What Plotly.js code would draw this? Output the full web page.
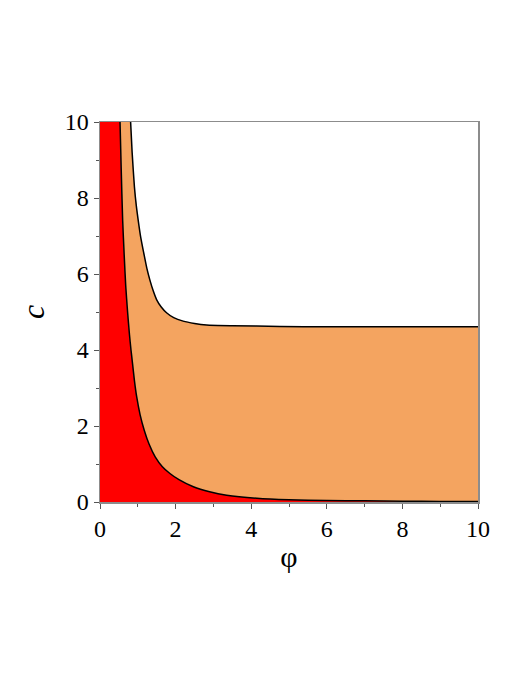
<!DOCTYPE html>
<html>
<head>
<meta charset="utf-8">
<script src="https://cdn.plot.ly/plotly-3.0.1.min.js"></script>
<style>
  html, body { margin: 0; padding: 0; background: #fff; }
  #chart { width: 526px; height: 681px; }
</style>
</head>
<body>
<div id="chart"></div>
<script>
// axis limits
const phiRange = [0, 10]
const cRange = [0, 10]

// lower boundary curve
const lowerPhi = [0.53, 0.56, 0.60, 0.64, 0.68, 0.73, 0.78, 0.82, 0.86, 0.91, 0.97, 1.06, 1.17, 1.30, 1.46, 1.65, 1.85, 2.10, 2.47, 2.90, 3.35, 4.15, 5.0, 6.0, 7.0, 8.0, 9.0, 10.0]
const lowerC   = [10.0, 8.8, 7.4, 6.5, 5.7, 5.0, 4.4, 4.0, 3.65, 3.2, 2.77, 2.3, 1.89, 1.52, 1.19, 0.93, 0.75, 0.58, 0.40, 0.27, 0.18, 0.10, 0.06, 0.04, 0.03, 0.02, 0.015, 0.01]

// upper boundary curve
const upperPhi = [0.81, 0.85, 0.91, 0.96, 1.01, 1.08, 1.16, 1.24, 1.32, 1.41, 1.50, 1.62, 1.76, 1.95, 2.20, 2.50, 2.82, 3.50, 4.76, 6.0, 8.0, 10.0]
const upperC   = [10.0, 9.2, 8.30, 7.8, 7.42, 6.95, 6.54, 6.15, 5.84, 5.55, 5.32, 5.13, 4.98, 4.85, 4.76, 4.70, 4.66, 4.64, 4.62, 4.61, 4.61, 4.61]

const xTicks = [0, 2, 4, 6, 8, 10]
const yTicks = [0, 2, 4, 6, 8, 10]

// red region: left of the lower curve
let redRegion = {
    x: [phiRange[0], phiRange[0]].concat(lowerPhi, [phiRange[1]]),
    y: [cRange[0], cRange[1]].concat(lowerC, [cRange[0]]),
    mode: 'lines',
    fill: 'toself',
    fillcolor: '#ff0000',
    line: {width: 0},
    hoverinfo: 'skip',
    showlegend: false,
}

// orange region: between the two curves
let orangeRegion = {
    x: lowerPhi.concat(upperPhi.slice().reverse()),
    y: lowerC.concat(upperC.slice().reverse()),
    mode: 'lines',
    fill: 'toself',
    fillcolor: '#f4a460',
    line: {width: 0},
    hoverinfo: 'skip',
    showlegend: false,
}

let lowerLine = {
    x: lowerPhi, y: lowerC,
    mode: 'lines',
    line: {color: '#000', width: 1.5, shape: 'spline', smoothing: 0.6},
    showlegend: false,
}

let upperLine = {
    x: upperPhi, y: upperC,
    mode: 'lines',
    line: {color: '#000', width: 1.5, shape: 'spline', smoothing: 0.6},
    showlegend: false,
}

const serif = 'Liberation Serif'

let axisCommon = {
    showgrid: false,
    zeroline: false,
    showline: true,
    mirror: true,
    linecolor: '#8c8c8c',
    linewidth: 1.5,
    ticks: 'outside',
    ticklen: 5,
    tickwidth: 1,
    tickcolor: '#555',
    tickfont: {family: serif, size: 24, color: '#000'},
    minor: {dtick: 1, ticks: 'outside', ticklen: 3, tickcolor: '#555', tickwidth: 1},
}

let layout = {
    width: 526,
    height: 681,
    margin: {l: 100, r: 48, t: 122, b: 179},
    paper_bgcolor: '#fff',
    plot_bgcolor: '#fff',
    font: {family: serif, size: 24, color: '#000'},
    xaxis: Object.assign({}, axisCommon, {
        range: phiRange,
        tickvals: xTicks,
        title: {text: 'φ', font: {family: serif, size: 30, color: '#000'}, standoff: 4},
    }),
    yaxis: Object.assign({}, axisCommon, {
        range: cRange,
        tickvals: yTicks,
        title: {text: '<i>c</i>', font: {family: serif, size: 32, color: '#000'}, standoff: 10},
    }),
}

Plotly.newPlot('chart', [redRegion, orangeRegion, lowerLine, upperLine], layout, {displayModeBar: false, staticPlot: true})
</script>
</body>
</html>
